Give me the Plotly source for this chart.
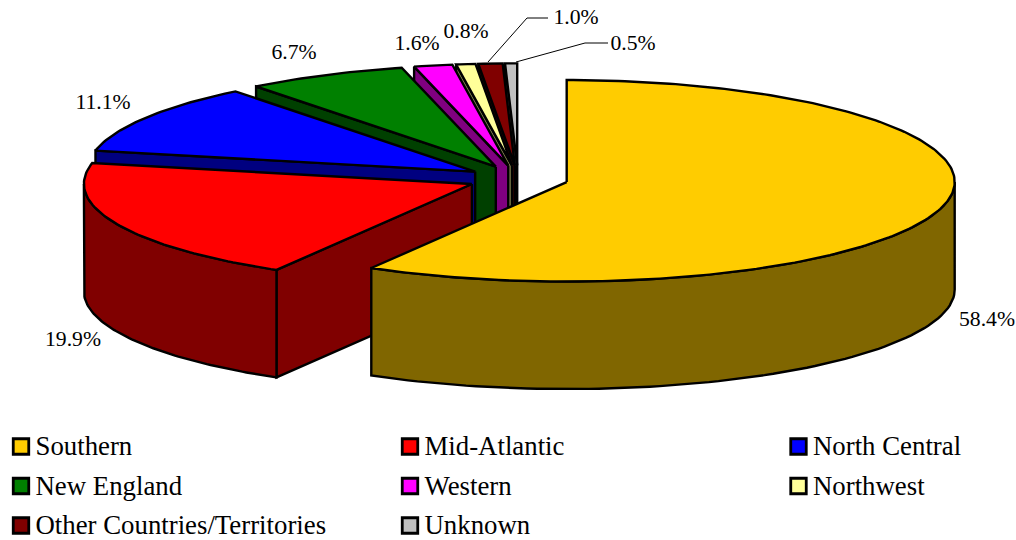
import numpy as np
import plotly.graph_objects as go

# ---- data ----
categories = ["Southern", "Mid-Atlantic", "North Central", "New England",
              "Western", "Northwest", "Other Countries/Territories", "Unknown"]
shares = [58.4, 19.9, 11.1, 6.7, 1.6, 0.8, 1.0, 0.5]
top_colors = ["#FFCC00", "#FF0000", "#0000FF", "#008000",
              "#FF00FF", "#FFFF99", "#800000", "#C0C0C0"]
wall_colors = ["#806600", "#800000", "#000080", "#004000",
               "#800080", "#80804D", "#400000", "#606060"]

# ---- drawing geometry (pixel-scaled axes) ----
CX, CY = 518.0, 178.6
RX = 388.0
RY_BACK, RY_FRONT = 102.0, 99.5
DEPTH = 107.5
EXPLODE = 0.13
LINE = dict(color="black", width=2.4)

label_centres = [(987, 321), (73, 341), (103, 104), (294, 54),
                 (417, 45), (466, 33), (576, 19), (633, 45)]
leaders = {6: ([488, 527, 548], [62, 18, 18]),
           7: ([516, 585, 608], [62, 43, 43])}
key_cols = [21, 410, 798.5]
key_rows = [446.5, 486, 525.5]
KEY_TEXT_DX = 14.5
KEY_TEXT_DY = 2

fig = go.Figure()


def add_poly(xs, ys, color):
    fig.add_trace(go.Scatter(x=list(xs) + [xs[0]], y=list(ys) + [ys[0]], mode="lines",
                             fill="toself", fillcolor=color, line=LINE,
                             hoverinfo="skip", showlegend=False))


def pt(theta, ox, oy):
    c = np.cos(theta)
    ry = np.where(c > 0, RY_BACK, RY_FRONT)
    return ox + RX * np.sin(theta), oy - ry * c


edges = np.cumsum([0.0] + shares) / sum(shares) * 2 * np.pi

# painter's order: from the back slice round to the front one
for i in list(range(len(shares) - 1, -1, -1)):
    a0, a1 = edges[i], edges[i + 1]
    mid = (a0 + a1) / 2
    ox = CX + EXPLODE * RX * np.sin(mid)
    oy = CY - EXPLODE * RY_BACK * np.cos(mid)

    # radial wall at the leading edge, seen only on the left half
    if np.sin(a0) < 0:
        ex, ey = pt(a0, ox, oy)
        add_poly([ox, ex, ex, ox], [oy, ey, ey + DEPTH, oy + DEPTH], wall_colors[i])

    # outer wall, seen only on the front half
    w0, w1 = max(a0, np.pi / 2), min(a1, 3 * np.pi / 2)
    if w1 > w0:
        t = np.linspace(w0, w1, 80)
        ax, ay = pt(t, ox, oy)
        add_poly(np.r_[ax, ax[::-1]], np.r_[ay, ay[::-1] + DEPTH], wall_colors[i])

    # top face
    t = np.linspace(a0, a1, max(6, int((a1 - a0) * 60)))
    ax, ay = pt(t, ox, oy)
    add_poly(np.r_[ox, ax], np.r_[oy, ay], top_colors[i])

# leader lines
for xs, ys in leaders.values():
    fig.add_trace(go.Scatter(x=xs, y=ys, mode="lines", line=dict(color="black", width=1),
                             hoverinfo="skip", showlegend=False))

# percentage labels
fig.add_trace(go.Scatter(x=[c[0] for c in label_centres], y=[c[1] for c in label_centres],
                         mode="text", text=[f"{v:.1f}%" for v in shares],
                         textposition="middle center",
                         textfont=dict(family="Liberation Serif", size=21.7, color="black"),
                         hoverinfo="skip", showlegend=False))

# key entries, three to a row
for k, (name, col) in enumerate(zip(categories, top_colors)):
    kx, ky = key_cols[k % 3], key_rows[k // 3]
    fig.add_trace(go.Scatter(x=[kx], y=[ky], mode="markers", name=name,
                             marker=dict(symbol="square", size=15.5, color=col,
                                         line=dict(color="black", width=2.8)),
                             showlegend=False, cliponaxis=False))
    fig.add_trace(go.Scatter(x=[kx + KEY_TEXT_DX], y=[ky + KEY_TEXT_DY], mode="text",
                             text=[name], textposition="middle right", name=name,
                             textfont=dict(family="Liberation Serif", size=26.8, color="black"),
                             showlegend=False, cliponaxis=False))

fig.update_layout(
    width=1016, height=540, margin=dict(l=0, r=0, t=0, b=0),
    paper_bgcolor="white", plot_bgcolor="white", showlegend=False,
    xaxis=dict(range=[0, 1016], visible=False, fixedrange=True),
    yaxis=dict(range=[540, 0], visible=False, fixedrange=True),
)

fig.write_html("out.html", config={"displayModeBar": False},
               post_script="document.body.style.margin='0';document.documentElement.style.overflow='hidden';")
